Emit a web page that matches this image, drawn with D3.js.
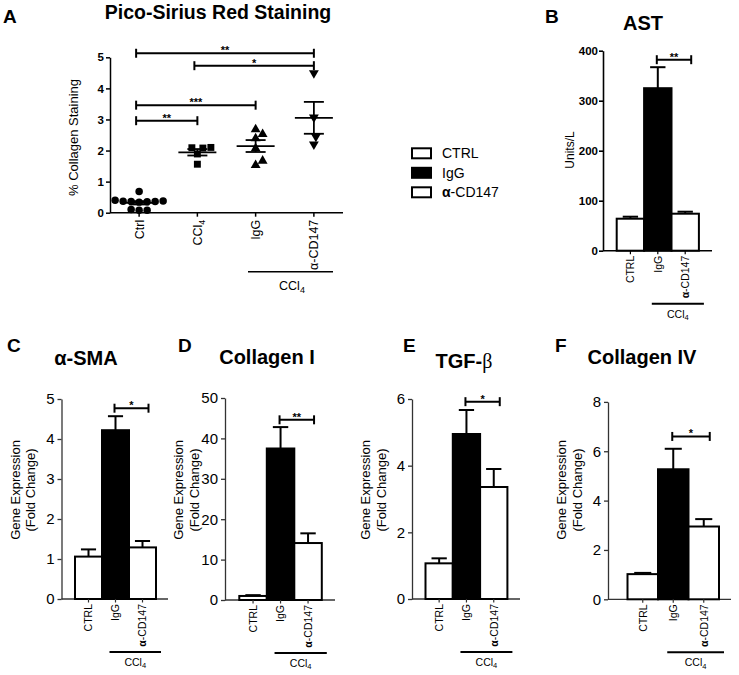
<!DOCTYPE html>
<html><head><meta charset="utf-8">
<script src="https://cdnjs.cloudflare.com/ajax/libs/d3/7.8.5/d3.min.js"></script>
<style>
body{margin:0;background:#fff}
svg{display:block}
text{font-family:"Liberation Sans",Arial,sans-serif;fill:#000}
</style>
</head><body>
<svg id="c" width="739" height="675"></svg>
<script>
// ---------------- DATA ----------------
const groupsA = ["Ctrl", "CCl4", "IgG", "α-CD147"];
const ctrlValues  = [0.68, 0.40, 0.38, 0.37, 0.36, 0.36, 0.35, 0.34, 0.10, 0.08, 0.08];
const ccl4Values  = [2.10, 2.09, 2.08, 1.89, 1.56];
const iggValues   = [2.68, 2.53, 2.39, 2.07, 1.67, 1.53];
const cd147Values = [4.49, 3.07, 2.45, 2.20];
const ticksA = [0, 1, 2, 3, 4, 5];
const sigA = [
  {from: "Ctrl", to: "α-CD147", y: 5.13, label: "**"},
  {from: "CCl4", to: "α-CD147", y: 4.73, label: "*"},
  {from: "Ctrl", to: "IgG",     y: 3.46, label: "***"},
  {from: "Ctrl", to: "CCl4",    y: 2.96, label: "**"}
];

const barCategories = ["CTRL", "IgG", "α-CD147"];
const legendLabels = ["CTRL", "IgG", "α-CD147"];

const astMeans  = [64, 325, 74];
const astErrors = [4, 42, 4];
const astTicks  = [0, 100, 200, 300, 400];
const astSig = 382;

const smaMeans  = [1.06, 4.22, 1.29];
const smaErrors = [0.18, 0.35, 0.16];
const smaTicks  = [0, 1, 2, 3, 4, 5];
const smaSig = 4.77;

const col1Means  = [1.0, 37.5, 14.1];
const col1Errors = [0.2, 5.3, 2.4];
const col1Ticks  = [0, 10, 20, 30, 40, 50];
const col1Sig = 44.6;

const tgfMeans  = [1.07, 4.95, 3.36];
const tgfErrors = [0.15, 0.72, 0.54];
const tgfTicks  = [0, 2, 4, 6];
const tgfSig = 5.92;

const col4Means  = [1.02, 5.27, 2.95];
const col4Errors = [0.05, 0.83, 0.30];
const col4Ticks  = [0, 2, 4, 6, 8];
const col4Sig = 6.6;

// ---------------- HELPERS ----------------
const svg = d3.select("#c");
const fmt = d3.format("d");

function richText(sel, str, boldAlpha) {
  if (str === "CCl4") {
    sel.append("tspan").text("CCl");
    sel.append("tspan").attr("dy", "0.3em").attr("font-size", "0.72em").text("4");
  } else if (str.startsWith("α")) {
    sel.append("tspan").attr("font-weight", boldAlpha ? "bold" : null).text("α");
    sel.append("tspan").text(str.slice(1));
  } else {
    sel.text(str);
  }
}

function line(g, x1, y1, x2, y2, w, color) {
  g.append("line").attr("x1", x1).attr("y1", y1).attr("x2", x2).attr("y2", y2)
    .attr("stroke", color || "#000").attr("stroke-width", w);
}

function bracket(g, x1, x2, y, label, fs) {
  line(g, x1, y, x2, y, 2);
  line(g, x1, y - 4.5, x1, y + 4.5, 2);
  line(g, x2, y - 4.5, x2, y + 4.5, 2);
  g.append("text").attr("x", (x1 + x2) / 2).attr("y", y + 1)
    .attr("text-anchor", "middle").attr("font-weight", "bold")
    .attr("font-size", fs).text(label);
}

function swarm(values, yScale, d) {
  const order = values.map((v, i) => i).sort((a, b) => values[a] - values[b]);
  const placed = [];
  const off = new Array(values.length);
  order.forEach(i => {
    const py = yScale(values[i]);
    let o = 0;
    for (let k = 0; k < 400; k++) {
      const cand = (k % 2 === 1 ? 1 : -1) * Math.ceil(k / 2) * 0.5;
      const ok = placed.every(p => (cand - p.o) ** 2 + (py - p.py) ** 2 >= d * d);
      if (ok) { o = cand; break; }
    }
    placed.push({o, py});
    off[i] = o;
  });
  return off;
}

// ---------------- PANEL A ----------------
(function () {
  const g = svg.append("g");
  const x = d3.scalePoint().domain(groupsA).range([110, 343]).padding(0.5);
  const y = d3.scaleLinear().domain([0, 5]).range([212.7, 57.3]);

  g.append("text").attr("x", 3).attr("y", 23).attr("font-weight", "bold").attr("font-size", 19).text("A");
  g.append("text").attr("x", 218).attr("y", 19).attr("text-anchor", "middle")
    .attr("font-weight", "bold").attr("font-size", 19.5).text("Pico-Sirius Red Staining");

  const ya = g.append("g").attr("transform", "translate(110,0)")
    .call(d3.axisLeft(y).tickValues(ticksA).tickFormat(fmt).tickSize(4).tickSizeOuter(0).tickPadding(2));
  ya.selectAll("text").attr("font-size", 11.5).attr("font-weight", "bold").attr("font-family", "Liberation Sans, Arial");
  ya.selectAll("line,path").attr("stroke", "#000").attr("stroke-width", 1.5);

  line(g, 110, y(0), 343, y(0), 1.5);
  groupsA.forEach(c => {
    line(g, x(c), y(0), x(c), y(0) + 4, 1.5);
    const t = g.append("text").attr("font-size", 12.5)
      .attr("transform", `translate(${x(c) + 4.5},${y(0) + 7}) rotate(-90)`)
      .attr("text-anchor", "end");
    richText(t, c, false);
  });

  g.append("text").attr("font-size", 13).attr("text-anchor", "middle")
    .attr("transform", "translate(77.5,137.5) rotate(-90)").text("% Collagen Staining");

  // CCl4 underline
  line(g, 248, 271.7, 333, 271.7, 1.5);
  const ct = g.append("text").attr("x", 292).attr("y", 290).attr("text-anchor", "middle").attr("font-size", 12.5);
  richText(ct, "CCl4");

  const sets = [
    {grp: "Ctrl", vals: ctrlValues, sym: d3.symbolCircle, size: 44, rot: 0},
    {grp: "CCl4", vals: ccl4Values, sym: d3.symbolSquare, size: 48, rot: 0},
    {grp: "IgG", vals: iggValues, sym: d3.symbolTriangle, size: 42, rot: 0},
    {grp: "α-CD147", vals: cd147Values, sym: d3.symbolTriangle, size: 42, rot: 180}
  ];
  sets.forEach(s => {
    const offs = swarm(s.vals, y, 8);
    const path = d3.symbol().type(s.sym).size(s.size)();
    s.vals.forEach((v, i) => {
      g.append("path").attr("d", path).attr("fill", "#000")
        .attr("transform", `translate(${x(s.grp) + offs[i]},${y(v)}) rotate(${s.rot})`);
    });
    const mean = d3.mean(s.vals);
    const sem = d3.deviation(s.vals) / Math.sqrt(s.vals.length);
    const cx = x(s.grp);
    line(g, cx - 19, y(mean), cx + 19, y(mean), 1.8);
    line(g, cx, y(mean - sem), cx, y(mean + sem), 1.8);
    line(g, cx - 10, y(mean - sem), cx + 10, y(mean - sem), 1.8);
    line(g, cx - 10, y(mean + sem), cx + 10, y(mean + sem), 1.8);
  });

  sigA.forEach(s => bracket(g, x(s.from) - 3, x(s.to), y(s.y), s.label, 11));
})();

// ---------------- LEGEND ----------------
(function () {
  const g = svg.append("g");
  const fills = ["#fff", "#000", "#fff"];
  const rows = d3.scalePoint().domain(legendLabels).range([153.3, 192.3]);
  legendLabels.forEach((lab, i) => {
    g.append("rect").attr("x", 412).attr("y", rows(lab) - 5).attr("width", 19).attr("height", 10)
      .attr("fill", fills[i]).attr("stroke", "#000").attr("stroke-width", 2);
    const t = g.append("text").attr("x", 442).attr("y", rows(lab) + 5).attr("font-size", 14);
    richText(t, lab, true);
  });
})();

// ---------------- BAR PANELS ----------------
const panels = [
  {means: astMeans, errors: astErrors, ticks: astTicks, yMax: 400, sig: astSig, sigLabel: "**",
   axisX: 603, barX0: 616.7, barW: 27.4, axisX1: 712, y0: 250.7, yTop: 50.7, style: "bold",
   title: "AST", titleX: 643, titleY: 30, letter: "B", letterX: 545, letterY: 23,
   ylab: ["Units/L"]},
  {means: smaMeans, errors: smaErrors, ticks: smaTicks, yMax: 5, sig: smaSig, sigLabel: "*",
   axisX: 61.5, barX0: 75, barW: 27, axisX1: 168, y0: 599, yTop: 399, style: "gene",
   title: "α-SMA", titleX: 86, titleY: 365, letter: "C", letterX: 7, letterY: 352,
   ylab: ["Gene Expression", "(Fold Change)"]},
  {means: col1Means, errors: col1Errors, ticks: col1Ticks, yMax: 50, sig: col1Sig, sigLabel: "**",
   axisX: 225, barX0: 239.3, barW: 27.5, axisX1: 335, y0: 600, yTop: 398, style: "gene",
   title: "Collagen I", titleX: 267, titleY: 364, letter: "D", letterX: 178, letterY: 352,
   ylab: ["Gene Expression", "(Fold Change)"]},
  {means: tgfMeans, errors: tgfErrors, ticks: tgfTicks, yMax: 6, sig: tgfSig, sigLabel: "*",
   axisX: 412, barX0: 425.5, barW: 27.3, axisX1: 520, y0: 599, yTop: 399, style: "gene",
   title: "TGF-β", titleX: 464, titleY: 368, letter: "E", letterX: 403, letterY: 352,
   ylab: ["Gene Expression", "(Fold Change)"]},
  {means: col4Means, errors: col4Errors, ticks: col4Ticks, yMax: 8, sig: col4Sig, sigLabel: "*",
   axisX: 608, barX0: 627.5, barW: 30.5, axisX1: 731, y0: 599.3, yTop: 401.9, style: "gene",
   title: "Collagen IV", titleX: 642, titleY: 364, letter: "F", letterX: 555, letterY: 352,
   ylab: ["Gene Expression", "(Fold Change)"]}
];

const barFills = ["#fff", "#000", "#fff"];

panels.forEach(p => {
  const g = svg.append("g");
  const y = d3.scaleLinear().domain([0, p.yMax]).range([p.y0, p.yTop]);
  const x = d3.scaleBand().domain(barCategories).range([p.barX0, p.barX0 + 3 * p.barW]).paddingInner(0);
  const bw = x.bandwidth();
  const gene = p.style === "gene";
  const axisColor = gene ? "#333" : "#000";
  const axisW = gene ? 1.3 : 1.6;

  g.append("text").attr("x", p.letterX).attr("y", p.letterY).attr("font-weight", "bold").attr("font-size", 19).text(p.letter);
  const tt = g.append("text").attr("x", p.titleX).attr("y", p.titleY).attr("text-anchor", "middle")
    .attr("font-weight", "bold").attr("font-size", 20);
  if (p.title === "TGF-β") {
    tt.append("tspan").text("TGF-");
    tt.append("tspan").attr("font-family", "Liberation Serif, Times New Roman, serif").attr("font-weight", "normal").text("β");
  } else {
    tt.text(p.title);
  }

  const ya = g.append("g").attr("transform", `translate(${p.axisX},0)`)
    .call(d3.axisLeft(y).tickValues(p.ticks).tickFormat(fmt).tickSize(4).tickSizeOuter(0).tickPadding(gene ? 3 : 1));
  ya.selectAll("line,path").attr("stroke", axisColor).attr("stroke-width", axisW);
  ya.selectAll("text").attr("font-family", "Liberation Sans, Arial")
    .attr("font-size", gene ? 15 : 11.5).attr("font-weight", gene ? "normal" : "bold");

  line(g, p.axisX, p.y0, p.axisX1, p.y0, axisW, axisColor);

  if (gene) {
    p.ylab.forEach((lab, i) => {
      const bx = p.axisX - 42 + i * 15.5;
      g.append("text").attr("font-size", 13).attr("text-anchor", "middle")
        .attr("transform", `translate(${bx},490) rotate(-90)`).text(lab);
    });
  } else {
    g.append("text").attr("font-size", 12).attr("text-anchor", "middle")
      .attr("transform", `translate(${p.axisX - 29},150) rotate(-90)`).text(p.ylab[0]);
  }

  barCategories.forEach((c, i) => {
    const m = p.means[i], e = p.errors[i];
    const cx = x(c) + bw / 2;
    const capW = bw * 0.56;
    line(g, cx, y(m), cx, y(m + e), 2);
    line(g, cx - capW / 2, y(m + e), cx + capW / 2, y(m + e), 2);
    g.append("rect").attr("x", x(c)).attr("y", y(m)).attr("width", bw).attr("height", y(0) - y(m))
      .attr("fill", barFills[i]).attr("stroke", "#000").attr("stroke-width", 2);
    line(g, cx, p.y0, cx, p.y0 + 3.5, 1.2, axisColor);
    const t = g.append("text").attr("font-size", 10.5).attr("text-anchor", "end")
      .attr("transform", `translate(${cx + 3.8},${p.y0 + 5}) rotate(-90)`);
    richText(t, c, true);
  });

  const xa = x("IgG") + bw / 2 - 1, xb = x("α-CD147") + bw / 2 + 6;
  bracket(g, xa, xb, y(p.sig), p.sigLabel, 11);

  const uy = p.y0 + 53;
  const ux1 = x("IgG") + bw / 2 - 6, ux2 = x("α-CD147") + bw + 5;
  line(g, ux1, uy, ux2, uy, 2);
  const ct = g.append("text").attr("x", (ux1 + ux2) / 2).attr("y", uy + 14)
    .attr("text-anchor", "middle").attr("font-size", 10.5);
  richText(ct, "CCl4");
});
</script>
</body></html>
